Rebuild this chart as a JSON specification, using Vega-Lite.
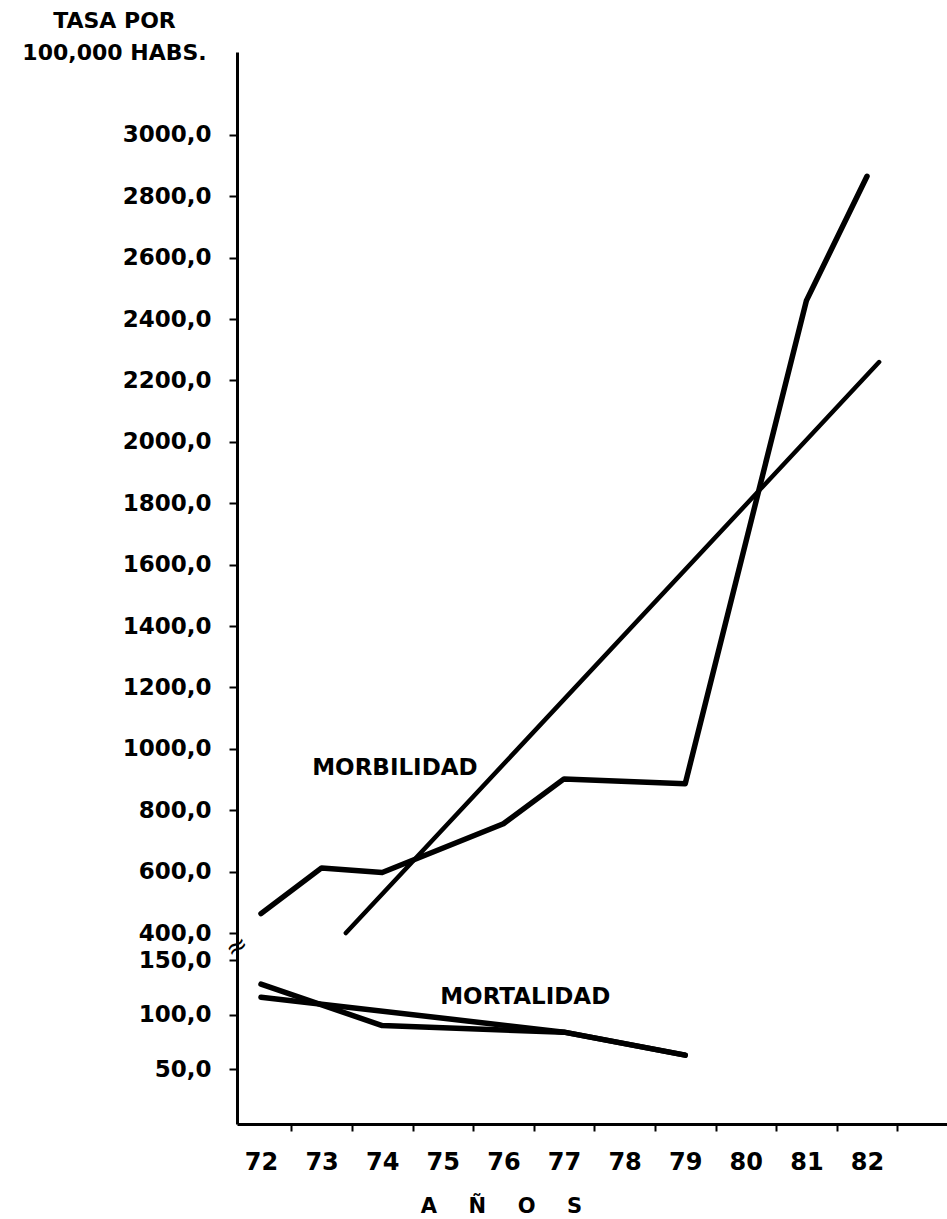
{
  "$schema": "https://vega.github.io/schema/vega-lite/v6.json",
  "width": 710,
  "height": 1072,
  "autosize": {"type": "none"},
  "padding": {"left": 237, "top": 52, "right": 0, "bottom": 95},
  "background": "white",
  "config": {
    "view": {"stroke": null},
    "axis": {
      "labelFont": "DejaVu Sans",
      "titleFont": "DejaVu Sans",
      "labelFontWeight": "bold",
      "titleFontWeight": "bold",
      "labelColor": "black",
      "titleColor": "black",
      "domainColor": "black",
      "tickColor": "black",
      "domainWidth": 3,
      "tickWidth": 2,
      "grid": false,
      "labelOverlap": false,
      "labelFlush": false
    }
  },
  "datasets": {
    "series": [
      {"serie": "Morbilidad", "year": 72, "value": 463},
      {"serie": "Morbilidad", "year": 73, "value": 612},
      {"serie": "Morbilidad", "year": 74, "value": 597},
      {"serie": "Morbilidad", "year": 76, "value": 756},
      {"serie": "Morbilidad", "year": 77, "value": 902},
      {"serie": "Morbilidad", "year": 79, "value": 886},
      {"serie": "Morbilidad", "year": 81, "value": 2460},
      {"serie": "Morbilidad", "year": 82, "value": 2865},
      {"serie": "Mortalidad A", "year": 72, "value": 128},
      {"serie": "Mortalidad A", "year": 74, "value": 90},
      {"serie": "Mortalidad A", "year": 77, "value": 84},
      {"serie": "Mortalidad A", "year": 79, "value": 63},
      {"serie": "Mortalidad B", "year": 72, "value": 116},
      {"serie": "Mortalidad B", "year": 77, "value": 84},
      {"serie": "Mortalidad B", "year": 79, "value": 63}
    ],
    "trend": [
      {"serie": "Tendencia morbilidad", "year": 73.4, "value": 400},
      {"serie": "Tendencia morbilidad", "year": 82.2, "value": 2260}
    ],
    "labels": [
      {"label": "MORBILIDAD", "year": 74.21, "value": 937},
      {"label": "MORTALIDAD", "year": 76.36, "value": 116}
    ],
    "brk": [{"mark": "≈", "year": 71.604, "value": 272}]
  },
  "layer": [
    {
      "data": {"name": "series"},
      "mark": {"type": "line", "color": "black", "strokeWidth": 5.5, "strokeCap": "round", "strokeJoin": "round"},
      "encoding": {
        "x": {
          "field": "year", "type": "quantitative",
          "scale": {"domain": [71.604, 83.32], "nice": false, "zero": false},
          "axis": {
            "values": [72.5, 73.5, 74.5, 75.5, 76.5, 77.5, 78.5, 79.5, 80.5, 81.5, 82.5],
            "labelExpr": "'' + floor(datum.value)",
            "labelOffset": -30.3,
            "labelFontSize": 24,
            "labelPadding": 19,
            "tickSize": 7,
            "title": "A\u2003\u2002Ñ\u2003\u2002O\u2003\u2002S",
            "titleFontSize": 21,
            "titleX": 264,
            "titleY": 88,
            "titleAlign": "center",
            "titleAnchor": null,
            "titleBaseline": "alphabetic"
          }
        },
        "y": {
          "field": "value", "type": "quantitative",
          "scale": {"domain": [0, 150, 400, 3270], "range": [1072, 908, 881, 0], "nice": false, "zero": false},
          "axis": {
            "values": [50, 100, 150, 400, 600, 800, 1000, 1200, 1400, 1600, 1800, 2000, 2200, 2400, 2600, 2800, 3000],
            "labelExpr": "datum.value + ',0'",
            "labelFontSize": 23,
            "labelPadding": 18,
            "tickSize": 8,
            "title": ["TASA POR", "100,000 HABS."],
            "titleFontSize": 22,
            "titleAngle": 0,
            "titleX": -123,
            "titleY": -25,
            "titleAlign": "center",
            "titleAnchor": null,
            "titleBaseline": "alphabetic",
            "titleLineHeight": 32
          }
        },
        "detail": {"field": "serie"}
      }
    },
    {
      "data": {"name": "trend"},
      "mark": {"type": "line", "color": "black", "strokeWidth": 4.5, "strokeCap": "round"},
      "encoding": {
        "x": {"field": "year", "type": "quantitative"},
        "y": {"field": "value", "type": "quantitative"},
        "detail": {"field": "serie"}
      }
    },
    {
      "data": {"name": "labels"},
      "mark": {"type": "text", "font": "DejaVu Sans", "fontSize": 23, "fontWeight": "bold", "color": "black", "align": "center", "baseline": "middle"},
      "encoding": {
        "x": {"field": "year", "type": "quantitative"},
        "y": {"field": "value", "type": "quantitative"},
        "text": {"field": "label"}
      }
    },
    {
      "data": {"name": "brk"},
      "mark": {"type": "text", "font": "DejaVu Sans", "fontSize": 26, "color": "black", "angle": 330, "align": "center", "baseline": "middle"},
      "encoding": {
        "x": {"field": "year", "type": "quantitative"},
        "y": {"field": "value", "type": "quantitative"},
        "text": {"field": "mark"}
      }
    }
  ]
}
